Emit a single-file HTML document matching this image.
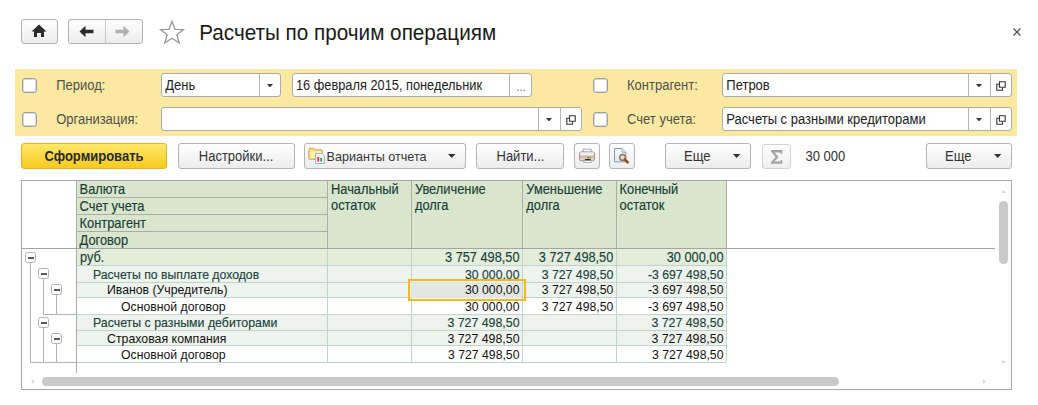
<!DOCTYPE html>
<html><head><meta charset="utf-8"><style>
html,body{margin:0;padding:0;background:#fff;width:1038px;height:405px;overflow:hidden;position:relative}
.t{position:absolute;white-space:nowrap;font-family:"Liberation Sans",sans-serif}
.b{position:absolute}
</style></head><body>
<div class="b" style="left:21px;top:19px;width:37px;height:25px;border:1px solid #b4b4b4;border-radius:3px;background:linear-gradient(#ffffff,#ececec);box-sizing:border-box;"></div>
<svg class="b" style="left:31px;top:24px" width="16" height="14" viewBox="0 0 16 14"><path d="M8 0.5 L15.5 7.5 L13 7.5 L13 13 L10 13 L10 9 L6 9 L6 13 L3 13 L3 7.5 L0.5 7.5 Z" fill="#2b2b2b"/></svg>
<div class="b" style="left:68px;top:19px;width:75px;height:25px;border:1px solid #b4b4b4;border-radius:3px;background:linear-gradient(#ffffff,#ececec);box-sizing:border-box;"></div>
<div class="b" style="left:105px;top:20px;width:1px;height:23px;background:#c8c8c8"></div>
<svg class="b" style="left:79px;top:25px" width="16" height="13" viewBox="0 0 16 13"><path d="M0.5 6.5 L6.5 0.8 L6.5 4.8 L14.5 4.8 L14.5 8.2 L6.5 8.2 L6.5 12.2 Z" fill="#2b2b2b"/></svg>
<svg class="b" style="left:114px;top:25px" width="16" height="13" viewBox="0 0 16 13"><path d="M15.5 6.5 L9.5 0.8 L9.5 4.8 L1.5 4.8 L1.5 8.2 L9.5 8.2 L9.5 12.2 Z" fill="#b0b0b0"/></svg>
<svg class="b" style="left:159px;top:20px" width="26" height="24" viewBox="0 0 26 24"><path d="M13 1.2 L16 9.3 L24.6 9.5 L17.8 14.8 L20.3 23 L13 18.2 L5.7 23 L8.2 14.8 L1.4 9.5 L10 9.3 Z" fill="none" stroke="#9a9a9a" stroke-width="1.3" stroke-linejoin="miter"/></svg>
<div class="t" style="left:199.20px;top:23.00px;font-size:20.7px;line-height:20.7px;color:#1a1a1a;font-weight:400;transform:scaleY(1.08);transform-origin:0 17px;">Расчеты по прочим операциям</div>
<svg class="b" style="left:1012.5px;top:28px" width="8" height="8" viewBox="0 0 8 8"><path d="M0.5 0.5 L7.5 7.5 M7.5 0.5 L0.5 7.5" stroke="#5a5a5a" stroke-width="1.4"/></svg>
<div class="b" style="left:15px;top:69px;width:1002px;height:67px;background:#fbe9a1"></div>
<div class="b" style="left:22px;top:78px;width:15px;height:15px;border:1px solid #a0a0a0;border-radius:3px;background:#fff;box-sizing:border-box;box-shadow:inset 0 0 0 1px #d8d8e0"></div>
<div class="b" style="left:593px;top:78px;width:15px;height:15px;border:1px solid #a0a0a0;border-radius:3px;background:#fff;box-sizing:border-box;box-shadow:inset 0 0 0 1px #d8d8e0"></div>
<div class="b" style="left:22px;top:112px;width:15px;height:15px;border:1px solid #a0a0a0;border-radius:3px;background:#fff;box-sizing:border-box;box-shadow:inset 0 0 0 1px #d8d8e0"></div>
<div class="b" style="left:593px;top:112px;width:15px;height:15px;border:1px solid #a0a0a0;border-radius:3px;background:#fff;box-sizing:border-box;box-shadow:inset 0 0 0 1px #d8d8e0"></div>
<div class="t" style="left:56.20px;top:79.00px;font-size:13px;line-height:13px;color:#505050;font-weight:400;transform:scaleY(1.08);transform-origin:0 11px;">Период:</div>
<div class="b" style="left:161px;top:73px;width:120px;height:24px;border:1px solid #a8abb4;border-radius:3px;background:#fff;box-sizing:border-box;"></div>
<div class="b" style="left:259px;top:74px;width:1px;height:22px;background:#b4b6bc"></div>
<div class="t" style="left:165.30px;top:79.00px;font-size:13px;line-height:13px;color:#222;font-weight:400;transform:scaleY(1.08);transform-origin:0 11px;">День</div>
<svg class="b" style="left:266.8px;top:84.1px" width="6" height="3.4" viewBox="0 0 6 3.4"><path d="M0 0 L6 0 L3.0 3.4 Z" fill="#333"/></svg>
<div class="b" style="left:292px;top:73px;width:240px;height:24px;border:1px solid #a8abb4;border-radius:3px;background:#fff;box-sizing:border-box;"></div>
<div class="b" style="left:509px;top:74px;width:1px;height:22px;background:#b4b6bc"></div>
<div class="t" style="left:296.00px;top:80.00px;font-size:12.8px;line-height:12.8px;color:#222;font-weight:400;transform:scaleY(1.08);transform-origin:0 10px;">16 февраля 2015, понедельник</div>
<div class="t" style="left:516.50px;top:82.00px;font-size:11px;line-height:11px;color:#666;font-weight:400;transform:scaleY(1.08);transform-origin:0 9px;">...</div>
<div class="t" style="left:627.00px;top:79.00px;font-size:13px;line-height:13px;color:#505050;font-weight:400;transform:scaleY(1.08);transform-origin:0 11px;">Контрагент:</div>
<div class="b" style="left:722px;top:73px;width:290px;height:24px;border:1px solid #a8abb4;border-radius:3px;background:#fff;box-sizing:border-box;"></div>
<div class="b" style="left:968px;top:74px;width:1px;height:22px;background:#b4b6bc"></div>
<div class="b" style="left:990px;top:74px;width:1px;height:22px;background:#b4b6bc"></div>
<div class="t" style="left:726.30px;top:79.00px;font-size:13px;line-height:13px;color:#222;font-weight:400;transform:scaleY(1.08);transform-origin:0 11px;">Петров</div>
<svg class="b" style="left:976.3px;top:84.1px" width="6" height="3.4" viewBox="0 0 6 3.4"><path d="M0 0 L6 0 L3.0 3.4 Z" fill="#333"/></svg>
<svg class="b" style="left:996px;top:81px" width="10" height="10" viewBox="0 0 10 10"><path d="M3.5 0.8 H9.2 V6.2 H3.5 Z" fill="none" stroke="#333" stroke-width="1.1"/><path d="M3 3.2 H0.8 V9.2 H6.5 V7" fill="none" stroke="#333" stroke-width="1.1"/></svg>
<div class="t" style="left:56.20px;top:113.00px;font-size:13px;line-height:13px;color:#505050;font-weight:400;transform:scaleY(1.08);transform-origin:0 11px;">Организация:</div>
<div class="b" style="left:161px;top:107px;width:421px;height:24px;border:1px solid #a8abb4;border-radius:3px;background:#fff;box-sizing:border-box;"></div>
<div class="b" style="left:538px;top:108px;width:1px;height:22px;background:#b4b6bc"></div>
<div class="b" style="left:560px;top:108px;width:1px;height:22px;background:#b4b6bc"></div>
<svg class="b" style="left:546.3px;top:118.1px" width="6" height="3.4" viewBox="0 0 6 3.4"><path d="M0 0 L6 0 L3.0 3.4 Z" fill="#333"/></svg>
<svg class="b" style="left:566px;top:115px" width="10" height="10" viewBox="0 0 10 10"><path d="M3.5 0.8 H9.2 V6.2 H3.5 Z" fill="none" stroke="#333" stroke-width="1.1"/><path d="M3 3.2 H0.8 V9.2 H6.5 V7" fill="none" stroke="#333" stroke-width="1.1"/></svg>
<div class="t" style="left:627.00px;top:113.00px;font-size:13px;line-height:13px;color:#505050;font-weight:400;transform:scaleY(1.08);transform-origin:0 11px;">Счет учета:</div>
<div class="b" style="left:722px;top:107px;width:290px;height:24px;border:1px solid #a8abb4;border-radius:3px;background:#fff;box-sizing:border-box;"></div>
<div class="b" style="left:968px;top:108px;width:1px;height:22px;background:#b4b6bc"></div>
<div class="b" style="left:990px;top:108px;width:1px;height:22px;background:#b4b6bc"></div>
<div class="t" style="left:726.30px;top:113.00px;font-size:13px;line-height:13px;color:#222;font-weight:400;transform:scaleY(1.08);transform-origin:0 11px;">Расчеты с разными кредиторами</div>
<svg class="b" style="left:976.3px;top:118.1px" width="6" height="3.4" viewBox="0 0 6 3.4"><path d="M0 0 L6 0 L3.0 3.4 Z" fill="#333"/></svg>
<svg class="b" style="left:996px;top:115px" width="10" height="10" viewBox="0 0 10 10"><path d="M3.5 0.8 H9.2 V6.2 H3.5 Z" fill="none" stroke="#333" stroke-width="1.1"/><path d="M3 3.2 H0.8 V9.2 H6.5 V7" fill="none" stroke="#333" stroke-width="1.1"/></svg>
<div class="b" style="left:21px;top:143px;width:146px;height:26px;border:1px solid #ebb41c;border-radius:3px;background:linear-gradient(#fde86a,#fbd944 50%,#f7ca1c);box-sizing:border-box;"></div>
<div class="t" style="left:44.50px;top:150.00px;font-size:13px;line-height:13px;color:#2a2a2a;font-weight:700;transform:scaleY(1.08);transform-origin:0 11px;">Сформировать</div>
<div class="b" style="left:178px;top:143px;width:117px;height:26px;border:1px solid #b4b4b4;border-radius:3px;background:linear-gradient(#ffffff,#ececec);box-sizing:border-box;"></div>
<div class="t" style="left:198.80px;top:150.00px;font-size:13px;line-height:13px;color:#333;font-weight:400;transform:scaleY(1.08);transform-origin:0 11px;">Настройки...</div>
<div class="b" style="left:304px;top:143px;width:162px;height:26px;border:1px solid #b4b4b4;border-radius:3px;background:linear-gradient(#ffffff,#ececec);box-sizing:border-box;"></div>
<svg class="b" style="left:308px;top:147px" width="18" height="18" viewBox="0 0 18 18">
<path d="M0.8 2.5 Q0.8 1.2 2 1.2 L5.5 1.2 L7 2.8 L13.2 2.8 Q14.2 2.8 14.2 4 L14.2 11.6 Q14.2 12.4 13.2 12.4 L1.8 12.4 Q0.8 12.4 0.8 11.4 Z" fill="#f3dc8a" stroke="#d4a94a" stroke-width="1"/>
<path d="M2.2 4.2 L13 4.2 L13 11.2 L2.2 11.2 Z" fill="#fbeeb0"/>
<path d="M7.5 6.5 L14 6.5 L16.5 9 L16.5 16.5 L7.5 16.5 Z" fill="#eef3f8" stroke="#9fb4c8" stroke-width="1"/>
<rect x="9.3" y="10" width="1.8" height="4.5" fill="#e03030"/>
<rect x="12.3" y="11" width="1.8" height="3.5" fill="#30a030"/>
</svg>
<div class="t" style="left:326.60px;top:151.00px;font-size:12.6px;line-height:12.6px;color:#333;font-weight:400;transform:scaleY(1.08);transform-origin:0 10px;">Варианты отчета</div>
<svg class="b" style="left:448.0px;top:153.8px" width="7.4" height="4" viewBox="0 0 7.4 4"><path d="M0 0 L7.4 0 L3.7 4 Z" fill="#333"/></svg>
<div class="b" style="left:476px;top:143px;width:88px;height:26px;border:1px solid #b4b4b4;border-radius:3px;background:linear-gradient(#ffffff,#ececec);box-sizing:border-box;"></div>
<div class="t" style="left:496.50px;top:150.00px;font-size:13px;line-height:13px;color:#333;font-weight:400;transform:scaleY(1.08);transform-origin:0 11px;">Найти...</div>
<div class="b" style="left:574px;top:143px;width:26px;height:26px;border:1px solid #b4b4b4;border-radius:3px;background:linear-gradient(#ffffff,#ececec);box-sizing:border-box;"></div>
<svg class="b" style="left:577px;top:146px" width="20" height="20" viewBox="0 0 20 20">
<rect x="6.2" y="3.2" width="7.9" height="5" fill="#fbfcfd" stroke="#8da6c0" stroke-width="0.9"/>
<rect x="2.5" y="5.9" width="15" height="8.9" rx="1.8" fill="#e6dacd" stroke="#8c8c8c" stroke-width="0.9"/>
<rect x="3.2" y="6.5" width="13.6" height="2.6" fill="#f6f1ec"/>
<rect x="3.2" y="9.6" width="13.6" height="2.8" fill="#c8b49e" opacity="0.75"/>
<rect x="10.1" y="11" width="1.8" height="1.3" fill="#e04848"/>
<rect x="12.3" y="11" width="1.6" height="1.3" fill="#3cb83c"/>
<rect x="7.9" y="13.1" width="5.7" height="1.7" fill="#1a1a1a"/>
<rect x="6.9" y="14.7" width="7.4" height="1.6" fill="#ffffff" stroke="#9a9a9a" stroke-width="0.7"/>
</svg>
<div class="b" style="left:609px;top:143px;width:26px;height:26px;border:1px solid #b4b4b4;border-radius:3px;background:linear-gradient(#ffffff,#ececec);box-sizing:border-box;"></div>
<svg class="b" style="left:611px;top:146px" width="20" height="20" viewBox="0 0 20 20">
<defs><linearGradient id="dg" x1="0" y1="0" x2="0" y2="1"><stop offset="0" stop-color="#fbfdff"/><stop offset="1" stop-color="#dfeaf6"/></linearGradient></defs>
<path d="M3.5 2.5 H11 L14.8 6.3 V15.8 H3.5 Z" fill="url(#dg)" stroke="#7f9cbb" stroke-width="1"/>
<path d="M11 2.5 V6.3 H14.8" fill="#dde8f3" stroke="#7f9cbb" stroke-width="0.8"/>
<circle cx="11.6" cy="11.4" r="2.9" fill="#cde0f7" stroke="#a86c38" stroke-width="1.4"/>
<path d="M13.8 13.6 L16.6 16.3" stroke="#8a5228" stroke-width="2.6" stroke-linecap="round"/>
</svg>
<div class="b" style="left:665px;top:143px;width:86px;height:26px;border:1px solid #b4b4b4;border-radius:3px;background:linear-gradient(#ffffff,#ececec);box-sizing:border-box;"></div>
<div class="t" style="left:684.00px;top:150.00px;font-size:13px;line-height:13px;color:#333;font-weight:400;transform:scaleY(1.08);transform-origin:0 11px;">Еще</div>
<svg class="b" style="left:733.0px;top:153.8px" width="7.4" height="4" viewBox="0 0 7.4 4"><path d="M0 0 L7.4 0 L3.7 4 Z" fill="#333"/></svg>
<div class="b" style="left:761.5px;top:144px;width:29.0px;height:24.5px;border:1px solid #d4d4d4;border-radius:3px;background:linear-gradient(#fcfcfc,#f0f0f0);box-sizing:border-box;"></div>
<svg class="b" style="left:771px;top:150px" width="12" height="14" viewBox="0 0 12 14"><path d="M0 0 H11.2 V3.8 H9.5 V2.4 H3.6 L7.6 6.9 L3.4 11.4 H9.6 V9.9 H11.2 V13.75 H0 V12.2 L4.6 6.9 L0 1.6 Z" fill="#a2a2a2"/></svg>
<div class="t" style="left:805.50px;top:150.00px;font-size:13px;line-height:13px;color:#333;font-weight:400;transform:scaleY(1.08);transform-origin:0 11px;">30 000</div>
<div class="b" style="left:926px;top:143px;width:86px;height:26px;border:1px solid #b4b4b4;border-radius:3px;background:linear-gradient(#ffffff,#ececec);box-sizing:border-box;"></div>
<div class="t" style="left:945.00px;top:150.00px;font-size:13px;line-height:13px;color:#333;font-weight:400;transform:scaleY(1.08);transform-origin:0 11px;">Еще</div>
<svg class="b" style="left:994.3px;top:153.8px" width="7.4" height="4" viewBox="0 0 7.4 4"><path d="M0 0 L7.4 0 L3.7 4 Z" fill="#333"/></svg>
<div class="b" style="left:21px;top:180px;width:991px;height:210px;border:1px solid #a8a8a8;box-sizing:border-box;background:#fff"></div>
<div class="b" style="left:77px;top:181px;width:649px;height:67px;background:#d9e5cd"></div>
<div class="b" style="left:327px;top:181px;width:1px;height:67px;background:#a9aea6"></div>
<div class="b" style="left:411px;top:181px;width:1px;height:67px;background:#a9aea6"></div>
<div class="b" style="left:522px;top:181px;width:1px;height:67px;background:#a9aea6"></div>
<div class="b" style="left:616px;top:181px;width:1px;height:67px;background:#a9aea6"></div>
<div class="b" style="left:726px;top:181px;width:1px;height:67px;background:#a9aea6"></div>
<div class="b" style="left:76px;top:181px;width:1px;height:192px;background:#a9aea6"></div>
<div class="b" style="left:77px;top:197px;width:250px;height:1px;background:#a9aea6"></div>
<div class="b" style="left:77px;top:214px;width:250px;height:1px;background:#a9aea6"></div>
<div class="b" style="left:77px;top:231px;width:250px;height:1px;background:#a9aea6"></div>
<div class="b" style="left:22px;top:248px;width:973px;height:1px;background:#a5a5a5"></div>
<div class="t" style="left:79.60px;top:184.00px;font-size:12.85px;line-height:12.85px;color:#183f38;font-weight:400;transform:scaleY(1.08);transform-origin:0 10px;-webkit-text-stroke:0.15px">Валюта</div>
<div class="t" style="left:79.60px;top:201.00px;font-size:12.85px;line-height:12.85px;color:#183f38;font-weight:400;transform:scaleY(1.08);transform-origin:0 10px;-webkit-text-stroke:0.15px">Счет учета</div>
<div class="t" style="left:79.60px;top:218.00px;font-size:12.85px;line-height:12.85px;color:#183f38;font-weight:400;transform:scaleY(1.08);transform-origin:0 10px;-webkit-text-stroke:0.15px">Контрагент</div>
<div class="t" style="left:79.60px;top:235.00px;font-size:12.85px;line-height:12.85px;color:#183f38;font-weight:400;transform:scaleY(1.08);transform-origin:0 10px;-webkit-text-stroke:0.15px">Договор</div>
<div class="t" style="left:331.00px;top:184.00px;font-size:12.85px;line-height:12.85px;color:#183f38;font-weight:400;transform:scaleY(1.08);transform-origin:0 10px;-webkit-text-stroke:0.15px">Начальный</div>
<div class="t" style="left:331.00px;top:200.00px;font-size:12.85px;line-height:12.85px;color:#183f38;font-weight:400;transform:scaleY(1.08);transform-origin:0 10px;-webkit-text-stroke:0.15px">остаток</div>
<div class="t" style="left:415.00px;top:184.00px;font-size:12.85px;line-height:12.85px;color:#183f38;font-weight:400;transform:scaleY(1.08);transform-origin:0 10px;-webkit-text-stroke:0.15px">Увеличение</div>
<div class="t" style="left:415.00px;top:200.00px;font-size:12.85px;line-height:12.85px;color:#183f38;font-weight:400;transform:scaleY(1.08);transform-origin:0 10px;-webkit-text-stroke:0.15px">долга</div>
<div class="t" style="left:526.30px;top:184.00px;font-size:12.85px;line-height:12.85px;color:#183f38;font-weight:400;transform:scaleY(1.08);transform-origin:0 10px;-webkit-text-stroke:0.15px">Уменьшение</div>
<div class="t" style="left:526.30px;top:200.00px;font-size:12.85px;line-height:12.85px;color:#183f38;font-weight:400;transform:scaleY(1.08);transform-origin:0 10px;-webkit-text-stroke:0.15px">долга</div>
<div class="t" style="left:619.60px;top:184.00px;font-size:12.85px;line-height:12.85px;color:#183f38;font-weight:400;transform:scaleY(1.08);transform-origin:0 10px;-webkit-text-stroke:0.15px">Конечный</div>
<div class="t" style="left:619.60px;top:200.00px;font-size:12.85px;line-height:12.85px;color:#183f38;font-weight:400;transform:scaleY(1.08);transform-origin:0 10px;-webkit-text-stroke:0.15px">остаток</div>
<div class="b" style="left:77px;top:249.00px;width:649px;height:16.30px;background:#e3edd9"></div>
<div class="b" style="left:77px;top:265.30px;width:649px;height:16.70px;background:#eef3ed"></div>
<div class="b" style="left:77px;top:282.00px;width:649px;height:15.80px;background:#eef3ed"></div>
<div class="b" style="left:77px;top:297.80px;width:649px;height:16.30px;background:#ffffff"></div>
<div class="b" style="left:77px;top:314.10px;width:649px;height:15.90px;background:#eef3ed"></div>
<div class="b" style="left:77px;top:330.00px;width:649px;height:15.90px;background:#eef3ed"></div>
<div class="b" style="left:77px;top:345.90px;width:649px;height:16.30px;background:#ffffff"></div>
<div class="b" style="left:77px;top:264.80px;width:649px;height:1px;background:#bfd4cc"></div>
<div class="b" style="left:77px;top:281.50px;width:649px;height:1px;background:#bfd4cc"></div>
<div class="b" style="left:77px;top:297.30px;width:649px;height:1px;background:#bfd4cc"></div>
<div class="b" style="left:77px;top:313.60px;width:649px;height:1px;background:#bfd4cc"></div>
<div class="b" style="left:77px;top:329.50px;width:649px;height:1px;background:#bfd4cc"></div>
<div class="b" style="left:77px;top:345.40px;width:649px;height:1px;background:#bfd4cc"></div>
<div class="b" style="left:77px;top:361.70px;width:649px;height:1px;background:#bfd4cc"></div>
<div class="b" style="left:327px;top:249px;width:1px;height:113px;background:#bfd4cc"></div>
<div class="b" style="left:411px;top:249px;width:1px;height:113px;background:#bfd4cc"></div>
<div class="b" style="left:522px;top:249px;width:1px;height:113px;background:#bfd4cc"></div>
<div class="b" style="left:616px;top:249px;width:1px;height:113px;background:#bfd4cc"></div>
<div class="b" style="left:726px;top:249px;width:1px;height:113px;background:#bfd4cc"></div>
<div class="b" style="left:411px;top:282px;width:111px;height:15.8px;background:#e3e7e1"></div>
<div class="t" style="left:80.00px;top:252.00px;font-size:12.75px;line-height:12.75px;color:#1a443e;font-weight:400;transform:scaleY(1.08);transform-origin:0 10px;-webkit-text-stroke:0.15px">руб.</div>
<div class="t" style="left:119.50px;width:400px;text-align:right;top:252.00px;font-size:12.75px;line-height:12.75px;color:#1a443e;font-weight:400;transform:scaleY(1.08);transform-origin:0 10px;-webkit-text-stroke:0.15px">3 757 498,50</div>
<div class="t" style="left:213.30px;width:400px;text-align:right;top:252.00px;font-size:12.75px;line-height:12.75px;color:#1a443e;font-weight:400;transform:scaleY(1.08);transform-origin:0 10px;-webkit-text-stroke:0.15px">3 727 498,50</div>
<div class="t" style="left:323.50px;width:400px;text-align:right;top:252.00px;font-size:12.75px;line-height:12.75px;color:#1a443e;font-weight:400;transform:scaleY(1.08);transform-origin:0 10px;-webkit-text-stroke:0.15px">30 000,00</div>
<div class="t" style="left:93.00px;top:269.00px;font-size:12.25px;line-height:12.25px;color:#1a443e;font-weight:400;transform:scaleY(1.08);transform-origin:0 10px;-webkit-text-stroke:0.15px">Расчеты по выплате доходов</div>
<div class="t" style="left:119.50px;width:400px;text-align:right;top:269.00px;font-size:12.25px;line-height:12.25px;color:#1a443e;font-weight:400;transform:scaleY(1.08);transform-origin:0 10px;-webkit-text-stroke:0.15px">30 000,00</div>
<div class="t" style="left:213.30px;width:400px;text-align:right;top:269.00px;font-size:12.25px;line-height:12.25px;color:#1a443e;font-weight:400;transform:scaleY(1.08);transform-origin:0 10px;-webkit-text-stroke:0.15px">3 727 498,50</div>
<div class="t" style="left:323.50px;width:400px;text-align:right;top:269.00px;font-size:12.25px;line-height:12.25px;color:#1a443e;font-weight:400;transform:scaleY(1.08);transform-origin:0 10px;-webkit-text-stroke:0.15px">-3 697 498,50</div>
<div class="t" style="left:107.00px;top:284.00px;font-size:12.25px;line-height:12.25px;color:#111111;font-weight:400;transform:scaleY(1.08);transform-origin:0 10px;">Иванов (Учредитель)</div>
<div class="t" style="left:119.50px;width:400px;text-align:right;top:284.00px;font-size:12.25px;line-height:12.25px;color:#111111;font-weight:400;transform:scaleY(1.08);transform-origin:0 10px;">30 000,00</div>
<div class="t" style="left:213.30px;width:400px;text-align:right;top:284.00px;font-size:12.25px;line-height:12.25px;color:#111111;font-weight:400;transform:scaleY(1.08);transform-origin:0 10px;">3 727 498,50</div>
<div class="t" style="left:323.50px;width:400px;text-align:right;top:284.00px;font-size:12.25px;line-height:12.25px;color:#111111;font-weight:400;transform:scaleY(1.08);transform-origin:0 10px;">-3 697 498,50</div>
<div class="t" style="left:121.00px;top:301.00px;font-size:12.25px;line-height:12.25px;color:#111111;font-weight:400;transform:scaleY(1.08);transform-origin:0 10px;">Основной договор</div>
<div class="t" style="left:119.50px;width:400px;text-align:right;top:301.00px;font-size:12.25px;line-height:12.25px;color:#111111;font-weight:400;transform:scaleY(1.08);transform-origin:0 10px;">30 000,00</div>
<div class="t" style="left:213.30px;width:400px;text-align:right;top:301.00px;font-size:12.25px;line-height:12.25px;color:#111111;font-weight:400;transform:scaleY(1.08);transform-origin:0 10px;">3 727 498,50</div>
<div class="t" style="left:323.50px;width:400px;text-align:right;top:301.00px;font-size:12.25px;line-height:12.25px;color:#111111;font-weight:400;transform:scaleY(1.08);transform-origin:0 10px;">-3 697 498,50</div>
<div class="t" style="left:93.00px;top:317.00px;font-size:12.35px;line-height:12.35px;color:#1a443e;font-weight:400;transform:scaleY(1.08);transform-origin:0 10px;-webkit-text-stroke:0.15px">Расчеты с разными дебиторами</div>
<div class="t" style="left:119.50px;width:400px;text-align:right;top:317.00px;font-size:12.35px;line-height:12.35px;color:#1a443e;font-weight:400;transform:scaleY(1.08);transform-origin:0 10px;-webkit-text-stroke:0.15px">3 727 498,50</div>
<div class="t" style="left:323.50px;width:400px;text-align:right;top:317.00px;font-size:12.35px;line-height:12.35px;color:#1a443e;font-weight:400;transform:scaleY(1.08);transform-origin:0 10px;-webkit-text-stroke:0.15px">3 727 498,50</div>
<div class="t" style="left:107.00px;top:333.00px;font-size:12.35px;line-height:12.35px;color:#111111;font-weight:400;transform:scaleY(1.08);transform-origin:0 10px;">Страховая компания</div>
<div class="t" style="left:119.50px;width:400px;text-align:right;top:333.00px;font-size:12.35px;line-height:12.35px;color:#111111;font-weight:400;transform:scaleY(1.08);transform-origin:0 10px;">3 727 498,50</div>
<div class="t" style="left:323.50px;width:400px;text-align:right;top:333.00px;font-size:12.35px;line-height:12.35px;color:#111111;font-weight:400;transform:scaleY(1.08);transform-origin:0 10px;">3 727 498,50</div>
<div class="t" style="left:121.00px;top:349.00px;font-size:12.25px;line-height:12.25px;color:#111111;font-weight:400;transform:scaleY(1.08);transform-origin:0 10px;">Основной договор</div>
<div class="t" style="left:119.50px;width:400px;text-align:right;top:349.00px;font-size:12.25px;line-height:12.25px;color:#111111;font-weight:400;transform:scaleY(1.08);transform-origin:0 10px;">3 727 498,50</div>
<div class="t" style="left:323.50px;width:400px;text-align:right;top:349.00px;font-size:12.25px;line-height:12.25px;color:#111111;font-weight:400;transform:scaleY(1.08);transform-origin:0 10px;">3 727 498,50</div>
<div class="b" style="left:408px;top:278.6px;width:118.4px;height:22.4px;border:2px solid #f5b91c;box-sizing:border-box"></div>
<div class="b" style="left:30px;top:263px;width:1px;height:99px;background:#b4b4b4"></div>
<div class="b" style="left:43px;top:279px;width:1px;height:35px;background:#b4b4b4"></div>
<div class="b" style="left:56px;top:295px;width:1px;height:19px;background:#b4b4b4"></div>
<div class="b" style="left:43px;top:328px;width:1px;height:34px;background:#b4b4b4"></div>
<div class="b" style="left:56px;top:344px;width:1px;height:18px;background:#b4b4b4"></div>
<div class="b" style="left:43px;top:314px;width:33px;height:1px;background:#b4b4b4"></div>
<div class="b" style="left:30px;top:362px;width:46px;height:1px;background:#b4b4b4"></div>
<div class="b" style="left:25px;top:252px;width:11px;height:11px;border:1px solid #b2b2b2;border-radius:2.5px;background:#fff;box-sizing:border-box"></div>
<div class="b" style="left:27.5px;top:257px;width:6px;height:1.6px;background:#5a5a5a"></div>
<div class="b" style="left:38px;top:268px;width:11px;height:11px;border:1px solid #b2b2b2;border-radius:2.5px;background:#fff;box-sizing:border-box"></div>
<div class="b" style="left:40.5px;top:273px;width:6px;height:1.6px;background:#5a5a5a"></div>
<div class="b" style="left:51px;top:284px;width:11px;height:11px;border:1px solid #b2b2b2;border-radius:2.5px;background:#fff;box-sizing:border-box"></div>
<div class="b" style="left:53.5px;top:289px;width:6px;height:1.6px;background:#5a5a5a"></div>
<div class="b" style="left:38px;top:317px;width:11px;height:11px;border:1px solid #b2b2b2;border-radius:2.5px;background:#fff;box-sizing:border-box"></div>
<div class="b" style="left:40.5px;top:322px;width:6px;height:1.6px;background:#5a5a5a"></div>
<div class="b" style="left:51px;top:333px;width:11px;height:11px;border:1px solid #b2b2b2;border-radius:2.5px;background:#fff;box-sizing:border-box"></div>
<div class="b" style="left:53.5px;top:338px;width:6px;height:1.6px;background:#5a5a5a"></div>
<div class="b" style="left:999px;top:201px;width:9px;height:63px;border-radius:4.5px;background:#c9c9c9"></div>
<div class="b" style="left:41.7px;top:377px;width:797.7px;height:8.7px;border-radius:4.3px;background:#c9c9c9"></div>
<svg class="b" style="left:1001px;top:190px" width="5" height="3" viewBox="0 0 5 3"><path d="M0 3 L5 3 L2.5 0 Z" fill="#d8d8d8"/></svg>
<svg class="b" style="left:1001px;top:360.5px" width="5" height="3" viewBox="0 0 5 3"><path d="M0 0 L5 0 L2.5 3 Z" fill="#d8d8d8"/></svg>
<svg class="b" style="left:31px;top:379px" width="3" height="5" viewBox="0 0 3 5"><path d="M3 0 L3 5 L0 2.5 Z" fill="#d8d8d8"/></svg>
<svg class="b" style="left:982.5px;top:379px" width="3" height="5" viewBox="0 0 3 5"><path d="M0 0 L0 5 L3 2.5 Z" fill="#d8d8d8"/></svg>
</body></html>
